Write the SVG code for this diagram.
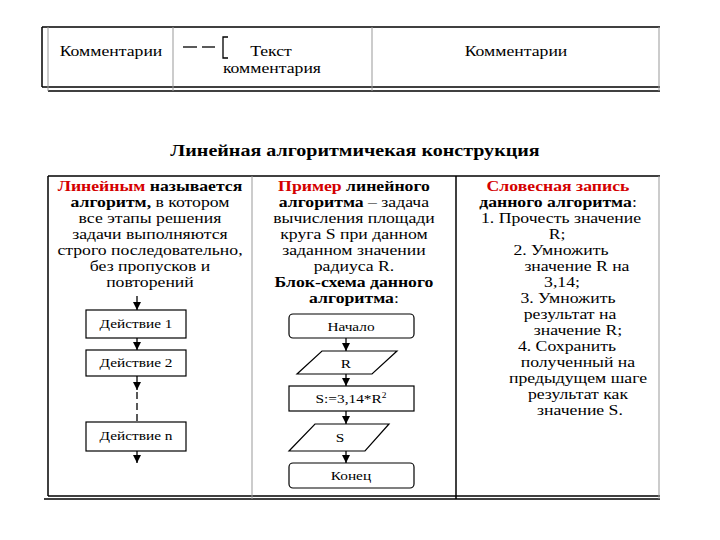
<svg xmlns="http://www.w3.org/2000/svg" width="720" height="540" viewBox="0 0 720 540">
<style>
text{font-family:"Liberation Serif","Times New Roman",serif;fill:#000;transform-box:fill-box;transform-origin:center;transform:scaleX(1.18)}
.t{font-size:15px;text-anchor:middle}
.b{font-weight:bold}
.r{fill:#d40000;font-weight:bold}
.fc{font-size:13px;text-anchor:middle}
.ln{stroke:#000;stroke-width:1.5;fill:none}
.gl{stroke:#999;stroke-width:1;fill:none}
.box{fill:#fff;stroke:#000;stroke-width:1.2}
.cn{stroke:#000;stroke-width:1.3;fill:none}
</style>
<defs>
<marker id="ah" viewBox="0 0 8 8" refX="8" refY="4" markerWidth="8" markerHeight="8" markerUnits="userSpaceOnUse" orient="auto">
<path d="M0,0 L8,4 L0,8 Z" fill="#000"/>
</marker>
</defs>
<rect width="720" height="540" fill="#fff"/>

<g id="legend-table">
<line class="ln" x1="42" y1="27" x2="660" y2="27"/>
<line class="ln" x1="42" y1="87" x2="660" y2="87"/>
<line class="ln" x1="48" y1="91" x2="660" y2="91"/>
<line class="ln" x1="42" y1="27" x2="42" y2="87"/>
<line class="gl" x1="48" y1="27" x2="48" y2="91"/>
<line class="gl" x1="173" y1="27" x2="173" y2="91"/>
<line class="gl" x1="372" y1="27" x2="372" y2="91"/>
<line class="gl" x1="659" y1="27" x2="659" y2="91"/>
<text class="t" x="111" y="56">Комментарии</text>
<line class="cn" x1="183" y1="47" x2="197" y2="47"/>
<line class="cn" x1="202" y1="47" x2="215" y2="47"/>
<path class="cn" d="M228,37 L223,37 L223,58 L228,58"/>
<text class="t" x="271" y="56">Текст</text>
<text class="t" x="272" y="73">комментария</text>
<text class="t" x="516" y="56">Комментарии</text>
</g>

<text class="t b" x="355" y="156" style="font-size:17px">Линейная алгоритмичекая конструкция</text>

<g id="main-table">
<line class="ln" x1="48" y1="176" x2="660" y2="176"/>
<line class="ln" x1="48" y1="496" x2="660" y2="496"/>
<line class="ln" x1="44" y1="499" x2="660" y2="499"/>
<line class="ln" x1="48" y1="176" x2="48" y2="496"/>
<line class="gl" x1="252" y1="176" x2="252" y2="499"/>
<line class="ln" x1="456" y1="176" x2="456" y2="499"/>
<line class="gl" x1="659" y1="176" x2="659" y2="499"/>
</g>

<g id="col1-text">
<text class="t" x="150" y="191"><tspan class="r">Линейным</tspan><tspan class="b"> называется</tspan></text>
<text class="t" x="150" y="207"><tspan class="b">алгоритм,</tspan> в котором</text>
<text class="t" x="150" y="223">все этапы решения</text>
<text class="t" x="150" y="239">задачи выполняются</text>
<text class="t" x="150" y="255">строго последовательно,</text>
<text class="t" x="150" y="271">без пропусков и</text>
<text class="t" x="150" y="287">повторений</text>
</g>

<g id="col2-text">
<text class="t" x="354" y="191"><tspan class="r">Пример</tspan><tspan class="b"> линейного</tspan></text>
<text class="t" x="354" y="207"><tspan class="b">алгоритма</tspan> – задача</text>
<text class="t" x="354" y="223">вычисления площади</text>
<text class="t" x="354" y="239">круга S при данном</text>
<text class="t" x="354" y="255">заданном значении</text>
<text class="t" x="354" y="271">радиуса R.</text>
<text class="t b" x="354" y="287">Блок-схема данного</text>
<text class="t" x="354" y="303"><tspan class="b">алгоритма</tspan>:</text>
</g>

<g id="col3-text">
<text class="t" x="558" y="191"><tspan class="r">Словесная запись</tspan></text>
<text class="t" x="558" y="207"><tspan class="b">данного алгоритма</tspan>:</text>
<text class="t" x="561" y="223">1.  Прочесть значение</text>
<text class="t" x="557" y="239">R;</text>
<text class="t" x="561" y="255">2.  Умножить</text>
<text class="t" x="577" y="271">значение R на</text>
<text class="t" x="562" y="287">3,14;</text>
<text class="t" x="568" y="303">3.  Умножить</text>
<text class="t" x="570" y="319">результат на</text>
<text class="t" x="578" y="335">значение R;</text>
<text class="t" x="567" y="351">4.  Сохранить</text>
<text class="t" x="578" y="367">полученный на</text>
<text class="t" x="578" y="383">предыдущем шаге</text>
<text class="t" x="578" y="399">результат как</text>
<text class="t" x="580" y="415">значение S.</text>
</g>

<g id="connectors">
<line class="cn" x1="137" y1="296" x2="137" y2="310" marker-end="url(#ah)"/>
<line class="cn" x1="137" y1="338" x2="137" y2="350" marker-end="url(#ah)"/>
<line class="cn" x1="137" y1="376" x2="137" y2="390" marker-end="url(#ah)"/>
<line class="cn" x1="137" y1="392" x2="137" y2="422" stroke-dasharray="7,4"/>
<line class="cn" x1="137" y1="451" x2="137" y2="463" marker-end="url(#ah)"/>
<line class="cn" x1="346" y1="338" x2="346" y2="351" marker-end="url(#ah)"/>
<line class="cn" x1="346" y1="374" x2="346" y2="386" marker-end="url(#ah)"/>
<line class="cn" x1="346" y1="411" x2="346" y2="424" marker-end="url(#ah)"/>
<line class="cn" x1="346" y1="451" x2="346" y2="463" marker-end="url(#ah)"/>
</g>

<g id="action1"><rect class="box" x="86" y="310" width="100" height="28"/><text class="fc" x="136" y="328">Действие 1</text></g>
<g id="action2"><rect class="box" x="86" y="350" width="100" height="26"/><text class="fc" x="136" y="367">Действие 2</text></g>
<g id="actionn"><rect class="box" x="86" y="422" width="100" height="29"/><text class="fc" x="136" y="440">Действие n</text></g>

<g id="start"><rect class="box" x="289" y="314" width="125" height="24" rx="4"/><text class="fc" x="351" y="331">Начало</text></g>
<g id="input-r"><polygon class="box" points="322,351 397,351 372,374 297,374"/><text class="fc" x="346" y="368">R</text></g>
<g id="calc"><rect class="box" x="289" y="386" width="125" height="25"/><text class="fc" x="351" y="403">S:=3,14*R<tspan dy="-5" style="font-size:8px">2</tspan></text></g>
<g id="output-s"><polygon class="box" points="315,424 389,424 365,451 289,451"/><text class="fc" x="340" y="442">S</text></g>
<g id="end"><rect class="box" x="289" y="463" width="125" height="25" rx="4"/><text class="fc" x="351" y="480">Конец</text></g>
</svg>
